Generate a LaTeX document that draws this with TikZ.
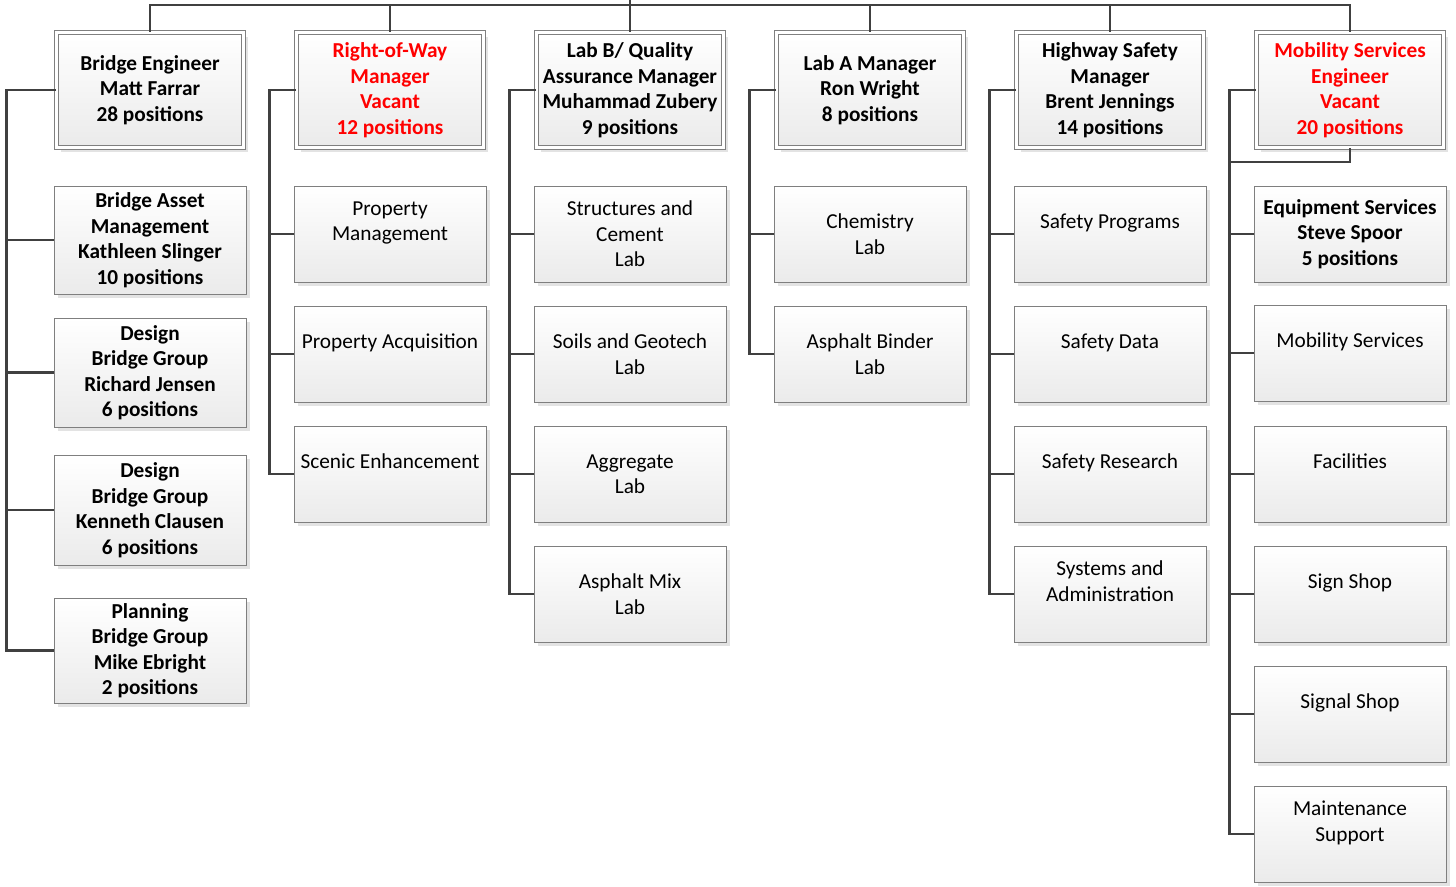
\documentclass[tikz,border=0pt]{standalone}
\usepackage{fontspec}
\setmainfont{Carlito}
\usepackage{tikz}
\usetikzlibrary{calc,shadows}
\definecolor{boxline}{HTML}{7F7F7F}
\definecolor{linkline}{HTML}{404040}
\definecolor{vacant}{HTML}{FF0000}
\tikzset{
	unit/.style={draw=boxline, line width=1pt, top color=white, bottom color=gray!16, minimum width=192pt, minimum height=96pt, align=center, inner sep=0pt, font=\fontsize{21.3}{25.5}\selectfont, drop shadow={shadow xshift=4pt, shadow yshift=-4pt, fill=gray!22, opacity=1}},
	head/.style={unit, double=white, double distance=3pt, minimum width=187pt, minimum height=115pt, font=\fontsize{21.3}{25.5}\selectfont\bfseries},
	named/.style={font=\fontsize{21.3}{25.5}\selectfont\bfseries},
	link/.style={draw=linkline, line width=2.6pt},
}
\begin{document}
\begin{tikzpicture}[x=1pt,y=-1pt]
	\useasboundingbox (0,0) rectangle (1456,886);
	\coordinate (top) at (630,0);
	\coordinate (bus) at (630,5);
	% managers
	\node[head] (bridge) at (150,90) {Bridge Engineer\\Matt Farrar\\28 positions};
	\node[head, text=vacant] (row) at (390,90) {Right-of-Way\\Manager\\Vacant\\12 positions};
	\node[head] (labb) at (630,90) {Lab B/ Quality\\Assurance Manager\\Muhammad Zubery\\9 positions};
	\node[head] (laba) at (870,90) {Lab A Manager\\Ron Wright\\8 positions};
	\node[head] (safety) at (1110,90) {Highway Safety\\Manager\\Brent Jennings\\14 positions};
	\node[head, text=vacant] (mobility) at (1350,90) {Mobility Services\\Engineer\\Vacant\\20 positions};
	% bridge groups
	\node[unit, named, minimum height=108pt] (asset) at (150,240) {Bridge Asset\\Management\\Kathleen Slinger\\10 positions};
	\node[unit, named, minimum height=109pt] (jensen) at (150,372.5) {Design\\Bridge Group\\Richard Jensen\\6 positions};
	\node[unit, named, minimum height=110pt] (clausen) at (150,510) {Design\\Bridge Group\\Kenneth Clausen\\6 positions};
	\node[unit, named, minimum height=105pt] (planning) at (150,650.5) {Planning\\Bridge Group\\Mike Ebright\\2 positions};
	% right-of-way
	\node[unit] (rowa) at (390,234) {Property\\Management\\~};
	\node[unit] (rowb) at (390,354) {Property Acquisition\\~};
	\node[unit] (rowc) at (390,474) {Scenic Enhancement\\~};
	% lab b
	\node[unit] (labba) at (630,234) {Structures and\\Cement\\Lab};
	\node[unit] (labbb) at (630,354) {Soils and Geotech\\Lab};
	\node[unit] (labbc) at (630,474) {Aggregate\\Lab};
	\node[unit] (labbd) at (630,594) {Asphalt Mix\\Lab};
	% lab a
	\node[unit] (labaa) at (870,234) {Chemistry\\Lab};
	\node[unit] (labab) at (870,354) {Asphalt Binder\\Lab};
	% safety
	\node[unit] (safa) at (1110,234) {Safety Programs\\~};
	\node[unit] (safb) at (1110,354) {Safety Data\\~};
	\node[unit] (safc) at (1110,474) {Safety Research\\~};
	\node[unit] (safd) at (1110,594) {Systems and\\Administration\\~};
	% mobility
	\node[unit, named] (moba) at (1350,234) {Equipment Services\\Steve Spoor\\5 positions};
	\node[unit] (mobb) at (1350,353) {Mobility Services\\~};
	\node[unit] (mobc) at (1350,474) {Facilities\\~};
	\node[unit] (mobd) at (1350,594) {Sign Shop\\~};
	\node[unit] (mobe) at (1350,714) {Signal Shop\\~};
	\node[unit] (mobf) at (1350,834) {Maintenance\\Support\\~};
	% links
	\draw[link] (bridge.north) |- (bus) -| (mobility.north);
	\foreach \n in {row,laba,safety}
		\draw[link] (\n.north) -- (\n.north |- bus);
	\draw[link] (labb.north) -- (top);
	\draw[link] (bridge.west) -| ($(planning.west)+(-47,0)$) -- (planning.west);
	\foreach \n in {asset,jensen,clausen}
		\draw[link] (\n.west) -- ++(-47,0);
	\draw[link] (row.west) -| ($(rowc.west)+(-24,0)$) -- (rowc.west);
	\foreach \n in {rowa,rowb}
		\draw[link] (\n.west) -- ++(-24,0);
	\draw[link] (labb.west) -| ($(labbd.west)+(-24,0)$) -- (labbd.west);
	\foreach \n in {labba,labbb,labbc}
		\draw[link] (\n.west) -- ++(-24,0);
	\draw[link] (laba.west) -| ($(labab.west)+(-24,0)$) -- (labab.west);
	\draw[link] (labaa.west) -- ++(-24,0);
	\draw[link] (safety.west) -| ($(safd.west)+(-24,0)$) -- (safd.west);
	\foreach \n in {safa,safb,safc}
		\draw[link] (\n.west) -- ++(-24,0);
	\draw[link] (mobility.west) -| ($(mobf.west)+(-24,0)$) -- (mobf.west);
	\draw[link] (mobility.south) |- ($(moba.west)+(-24,-72)$);
	\foreach \n in {moba,mobb,mobc,mobd,mobe}
		\draw[link] (\n.west) -- ++(-24,0);
\end{tikzpicture}
\end{document}
